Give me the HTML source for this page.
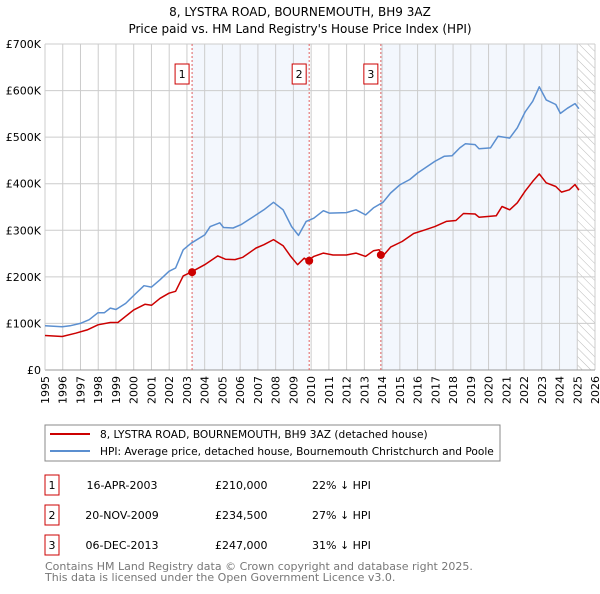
<!DOCTYPE html>
<html><head><meta charset="utf-8"><style>
body{margin:0;background:#fff;width:600px;height:590px;overflow:hidden;font-family:"DejaVu Sans","Liberation Sans",sans-serif}
svg text{font-family:"DejaVu Sans","Liberation Sans",sans-serif}
</style></head><body>
<svg id="c" width="600" height="590" xmlns="http://www.w3.org/2000/svg">
<text x="300" y="16" text-anchor="middle" font-size="12">8, LYSTRA ROAD, BOURNEMOUTH, BH9 3AZ</text>
<text x="300" y="33" text-anchor="middle" font-size="12">Price paid vs. HM Land Registry's House Price Index (HPI)</text>
<defs><pattern id="hatch" width="6" height="6" patternUnits="userSpaceOnUse" patternTransform="rotate(-45)"><line x1="0" y1="0" x2="0" y2="6" stroke="#bbb" stroke-width="1"/></pattern></defs>
<g id="plot"></g>
<rect x="45" y="425" width="455" height="36" fill="#fff" stroke="#888"/>
<line x1="50" y1="434" x2="90" y2="434" stroke="#cc0000" stroke-width="2"/>
<text x="100" y="438" font-size="10.6">8, LYSTRA ROAD, BOURNEMOUTH, BH9 3AZ (detached house)</text>
<line x1="50" y1="451" x2="90" y2="451" stroke="#5b8fd0" stroke-width="2"/>
<text x="100" y="455" font-size="10.6">HPI: Average price, detached house, Bournemouth Christchurch and Poole</text>
<g id="table"></g>
<text x="45" y="570" font-size="11" fill="#777">Contains HM Land Registry data © Crown copyright and database right 2025.</text>
<text x="45" y="581" font-size="11" fill="#777">This data is licensed under the Open Government Licence v3.0.</text>
</svg>
<script>
const hpiYears=[1995.0,1995.97,1996.41,1996.99,1997.49,1997.99,1998.35,1998.68,1999.0,1999.55,2000.0,2000.58,2001.0,2001.49,2001.99,2002.36,2002.79,2003.23,2004.0,2004.31,2004.85,2005.06,2005.6,2006.04,2006.9,2007.34,2007.88,2008.42,2008.9,2009.29,2009.72,2010.15,2010.69,2011.02,2011.99,2012.53,2013.07,2013.51,2014.05,2014.48,2015.02,2015.56,2016.0,2016.43,2016.97,2017.51,2017.94,2018.38,2018.7,2019.24,2019.46,2020.11,2020.54,2021.19,2021.62,2022.06,2022.49,2022.86,2023.25,2023.79,2024.05,2024.44,2024.87,2025.09];
const hpiValues=[95,93,95,100,108,123,123,133,130,143,160,181,178,194,212,219,258,272,290,308,316,306,305,312,333,344,360,344,308,289,319,326,342,337,338,344,333,348,360,380,398,409,423,434,448,459,460,477,486,484,475,477,502,498,520,554,577,608,580,570,551,562,572,561];
const ppYears=[1995.0,1995.97,1996.73,1997.38,1997.99,1998.68,1999.11,2000.0,2000.63,2001.0,2001.49,2001.99,2002.36,2002.79,2003.23,2004.0,2004.74,2005.17,2005.71,2006.15,2006.9,2007.34,2007.88,2008.42,2008.85,2009.24,2009.61,2009.83,2010.15,2010.69,2011.23,2011.99,2012.53,2013.07,2013.51,2013.83,2014.05,2014.48,2015.13,2015.78,2016.43,2016.97,2017.62,2018.16,2018.59,2019.24,2019.46,2020.43,2020.76,2021.19,2021.62,2022.06,2022.49,2022.86,2023.25,2023.79,2024.11,2024.55,2024.87,2025.09];
const ppValues=[74,72,79,86,97,102,102,129,141,139,154,165,169,202,210,226,245,238,237,242,262,269,280,267,244,226,240,235,244,251,247,247,251,244,256,258,245,264,276,293,301,308,319,321,336,335,328,331,351,344,359,384,405,421,402,394,382,387,398,386];
const saleLabels=["1","2","3"];
const saleYears=[2003.29,2009.89,2013.93];
const saleValues=[210,234.5,247];
const saleDates=["16-APR-2003","20-NOV-2009","06-DEC-2013"];
const salePrices=["£210,000","£234,500","£247,000"];
const saleDiffs=["22% ↓ HPI","27% ↓ HPI","31% ↓ HPI"];
const yTicks=[0,100,200,300,400,500,600,700];
const yTickLabels=["£0","£100K","£200K","£300K","£400K","£500K","£600K","£700K"];
const xTicks=[];for(let y=1995;y<=2026;y++)xTicks.push(y);

const NS="http://www.w3.org/2000/svg";
const L=45,R=595,T=44,B=370;
const X=y=>L+(y-1995)/(2026-1995)*(R-L);
const Y=v=>B-v/700*(B-T);
const g=document.getElementById('plot');
function mk(tag,attrs,parent){const e=document.createElementNS(NS,tag);for(const k in attrs)e.setAttribute(k,attrs[k]);(parent||g).appendChild(e);return e;}
let e;
e=mk('rect',{x:X(saleYears[0]),y:T,width:X(saleYears[1])-X(saleYears[0]),height:B-T,fill:'#eef3fc',opacity:0.7});


e=mk('rect',{x:X(saleYears[2]),y:T,width:X(2025.0)-X(saleYears[2]),height:B-T,fill:'#eef3fc',opacity:0.7});


e=mk('rect',{x:X(2025.0),y:T,width:R-X(2025.0),height:B-T,fill:'url(#hatch)'});


xTicks.forEach(t=>{e=mk('line',{x1:X(t),x2:X(t),y1:T,y2:B,stroke:'#ccc','stroke-width':1});


e=mk('text',{x:0,y:0,'font-size':11,'text-anchor':'end',transform:`translate(${X(t)+4},${B+6}) rotate(-90)`});e.textContent=t;

});
yTicks.forEach((t,i)=>{e=mk('line',{x1:L,x2:R,y1:Y(t),y2:Y(t),stroke:'#ccc','stroke-width':1});


e=mk('text',{x:L-4,y:Y(t)+4,'font-size':11,'text-anchor':'end'});e.textContent=yTickLabels[i];

});
e=mk('line',{x1:L,x2:R,y1:B,y2:B,stroke:'#999'});


e=mk('line',{x1:L,x2:L,y1:T,y2:B,stroke:'#ccc'});


saleYears.forEach((s,i)=>{e=mk('line',{x1:X(s),x2:X(s),y1:T,y2:B,stroke:'#e06060','stroke-dasharray':'2,2','stroke-width':1});


e=mk('rect',{x:X(s)-17,y:64,width:14,height:20,fill:'#fff',stroke:'#cc0000'});


e=mk('text',{x:X(s)-10,y:78,'font-size':11,'text-anchor':'middle'});e.textContent=saleLabels[i];

});
function line(xs,vs,color,name){e=mk('polyline',{points:xs.map((x,i)=>X(x).toFixed(1)+','+Y(vs[i]).toFixed(1)).join(' '),fill:'none',stroke:color,'stroke-width':1.5,'stroke-linejoin':'round'});

}
line(hpiYears,hpiValues,'#5b8fd0','hpi-line');
line(ppYears,ppValues,'#cc0000','price-paid-line');
saleYears.forEach((s,i)=>{e=mk('circle',{cx:X(s),cy:Y(saleValues[i]),r:4,fill:'#cc0000'});

});
const tb=document.getElementById('table');
saleLabels.forEach((l,i)=>{const y=475+i*30;
e=mk('rect',{x:45,y:y,width:14,height:20,fill:'#fff',stroke:'#cc0000'},tb);


const cols=[[52,l,'middle'],[122,saleDates[i],'middle'],[215,salePrices[i],'start'],[312,saleDiffs[i],'start']];
cols.forEach(c=>{e=mk('text',{x:c[0],y:y+14,'font-size':11,'text-anchor':c[2]},tb);e.textContent=c[1];

});});
</script>
</body></html>
